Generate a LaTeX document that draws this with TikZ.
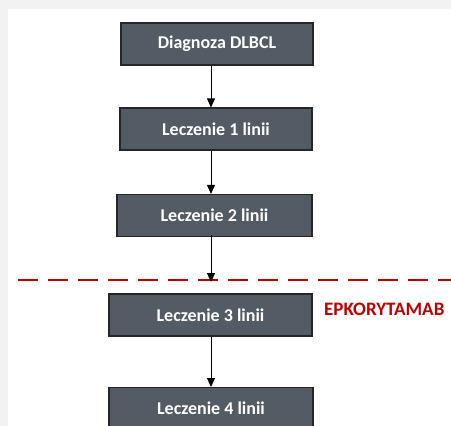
\documentclass[tikz,border=0pt]{standalone}
\usepackage{fontspec}
\setmainfont{Carlito}
\usetikzlibrary{arrows.meta}
\definecolor{boxfill}{HTML}{535B64}
\definecolor{bgray}{HTML}{F2F2F2}
\definecolor{dred}{HTML}{C00000}
\tikzset{
  stepbox/.style={draw=black!85, line width=1.2pt, fill=boxfill, text=white,
    font=\bfseries\fontsize{18}{20}\selectfont, minimum height=42pt, inner sep=0pt},
  flow/.style={draw=black, line width=0.9pt, -{Triangle[width=8pt,length=9pt]}}
}
\begin{document}
\begin{tikzpicture}[x=1pt,y=-1pt]
\useasboundingbox (0,0) rectangle (451,426);
\fill[bgray] (0,0) rectangle (451,426);
\fill[white] (8,9) rectangle (451,426);
\node[stepbox, minimum width=192pt] (d) at (217,44) {Diagnoza DLBCL};
\node[stepbox, minimum width=192pt] (l1) at (216,129) {Leczenie 1 linii};
\node[stepbox, minimum width=195pt] (l2) at (214.5,215.5) {Leczenie 2 linii};
\node[stepbox, minimum width=203pt] (l3) at (210.5,315) {Leczenie 3 linii};
\node[stepbox, minimum width=204pt, anchor=north] (l4) at (211,387) {Leczenie 4 linii};
\node[text=dred, font=\bfseries\fontsize{19}{21}\selectfont, anchor=west, inner sep=0pt] (ep) at (324,309) {EPKORYTAMAB};
\coordinate (dl) at (18,280);
\coordinate (dr) at (451,280);
\draw[dred, line width=2.8pt, dash pattern=on 20pt off 10pt] (dl) -- (dr);
\draw[flow] (d.south -| 211,0) -- (l1.north -| 211,0);
\draw[flow] (l1.south -| 211,0) -- (l2.north -| 211,0);
\draw[flow] ([yshift=2pt]l2.south -| 211,0) -- ([yshift=-2pt]dl -| 211,0);
\draw[flow] (l3.south -| 211,0) -- (l4.north -| 211,0);
\end{tikzpicture}
\end{document}
